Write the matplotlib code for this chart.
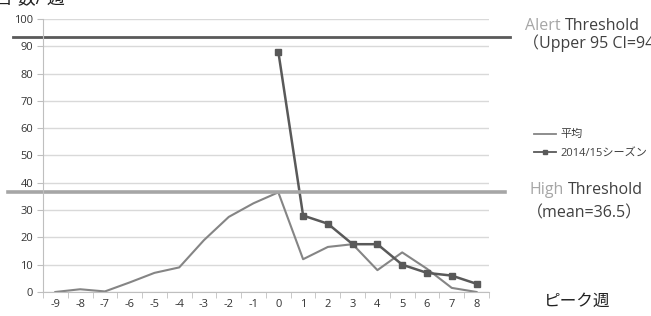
import matplotlib
matplotlib.use('Agg')
import matplotlib.pyplot as plt

plt.rcParams['font.family'] = ['Open Sans', 'Noto Sans CJK JP', 'DejaVu Sans']
plt.rcParams['axes.unicode_minus'] = False

weeks = [-9, -8, -7, -6, -5, -4, -3, -2, -1, 0, 1, 2, 3, 4, 5, 6, 7, 8]
mean_counts = [0, 1, 0.2, 3.5, 7, 9, 19, 27.5, 32.5, 36.5, 12, 16.5, 17.5, 8, 14.5, 8.5, 1.5, 0]
season_weeks = [0, 1, 2, 3, 4, 5, 6, 7, 8]
season_counts = [88, 28, 25, 17.5, 17.5, 10, 7, 6, 3]
alert_value = 93.3
high_value = 36.5
y_ticks = [0, 10, 20, 30, 40, 50, 60, 70, 80, 90, 100]

fig = plt.figure(figsize=(6.51, 3.16), dpi=100)
ax = fig.add_axes([0.066, 0.076, 0.685, 0.864])

ax.set_xlim(-9.5, 8.5)
ax.set_ylim(0, 100)
ax.set_yticks(y_ticks)
ax.set_xticks(weeks)
ax.set_xticks([w - 0.5 for w in weeks] + [8.5], minor=True)
ax.tick_params(axis='x', which='major', length=0, labelsize=8, pad=5, labelcolor='#333333')
ax.tick_params(axis='x', which='minor', length=4, color='#bfbfbf')
ax.tick_params(axis='y', length=4, labelsize=8, color='#bfbfbf', labelcolor='#333333', pad=3)
ax.grid(axis='y', color='#d9d9d9', linewidth=1)
ax.set_axisbelow(True)
for side in ['top', 'right']:
    ax.spines[side].set_visible(False)
for side in ['left', 'bottom']:
    ax.spines[side].set_color('#bfbfbf')

ax.plot(weeks, mean_counts, color='#858585', linewidth=1.5, label='平均')
ax.plot(season_weeks, season_counts, color='#595959', linewidth=1.8,
        marker='s', markersize=4, label='2014/15シーズン')

# threshold lines run past the plot area
ax.axhline(alert_value, xmin=-0.067, xmax=1.047, color='#5a5a5a', linewidth=2, clip_on=False)
ax.axhline(high_value, xmin=-0.078, xmax=1.035, color='#a6a6a6', linewidth=2.6, clip_on=False)

fig.text(-0.008, 0.975, '台 数/ 週', fontsize=13, color='#222222', va='bottom', ha='left')

alert = fig.text(0.807, 0.918, 'Alert', fontsize=11.5, color='#a6a6a6', va='center')
ax.annotate('Threshold', xy=(1, 0.5), xycoords=alert, xytext=(3, 0), textcoords='offset points',
            fontsize=11.5, color='#404040', va='center')
fig.text(0.803, 0.862, '（Upper 95 CI=94）', fontsize=11.5, color='#404040', va='center')
high = fig.text(0.813, 0.399, 'High', fontsize=11.5, color='#a6a6a6', va='center')
ax.annotate('Threshold', xy=(1, 0.5), xycoords=high, xytext=(3, 0), textcoords='offset points',
            fontsize=11.5, color='#404040', va='center')
fig.text(0.810, 0.326, '（mean=36.5）', fontsize=11.5, color='#404040', va='center')
fig.text(0.836, 0.045, 'ピーク週', fontsize=12, color='#222222', va='center')

leg = fig.legend(loc='upper left', bbox_to_anchor=(0.805, 0.622), frameon=False, fontsize=8,
                 handlelength=2.0, handletextpad=0.4, labelspacing=0.7, labelcolor='#404040',
                 markerscale=0.7)
for line in leg.get_lines():
    line.set_linewidth(1.3)

fig.savefig('out.png', dpi=100)
